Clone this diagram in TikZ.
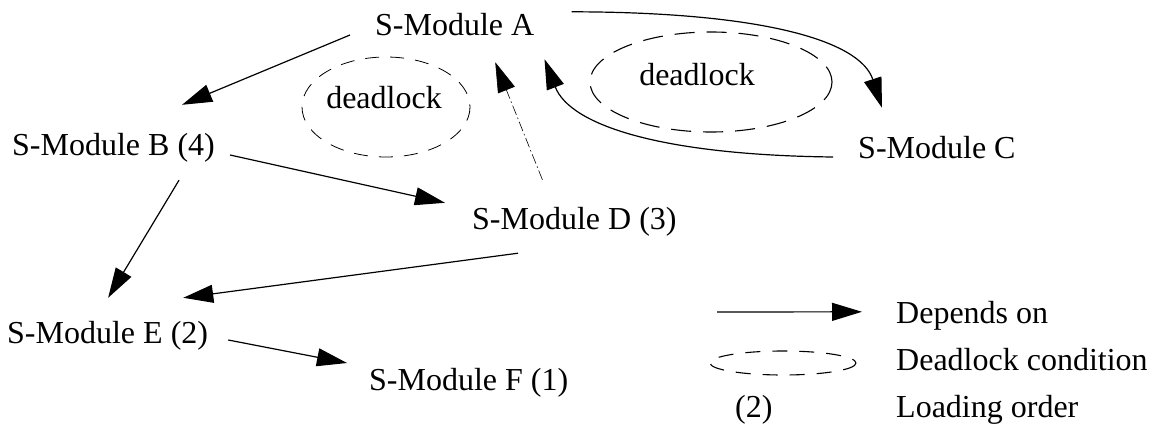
\documentclass[tikz,border=0pt]{standalone}
\usepackage{fontspec}
\setmainfont{Liberation Serif}
\usetikzlibrary{arrows.meta}
\begin{document}
\begin{tikzpicture}[x=1pt,y=-1pt,
  font=\fontsize{32}{38}\selectfont,
  mod/.style={inner sep=0pt, anchor=base west, text height=22pt, text depth=7pt},
  lbl/.style={inner sep=0pt, anchor=base west},
  dep/.style={line width=1.2pt, -{Triangle[length=30pt,width=18pt]}},
  weak/.style={line width=0.6pt, dash pattern=on 10pt off 3pt on 1.5pt off 3pt, -{Triangle[length=30pt,width=18pt,line width=0.6pt]}},
  dlbig/.style={line width=1.1pt, dash pattern=on 20pt off 12pt},
  dlsmall/.style={line width=0.8pt, dash pattern=on 14pt off 11pt},
  dllegend/.style={line width=1.1pt, dash pattern=on 15pt off 12pt}]
\useasboundingbox (0,0) rectangle (1170,431);

% modules
\node[mod] (A) at (375,35)  {S-Module A};
\node[mod] (B) at (12,155)  {S-Module B (4)};
\node[mod] (C) at (858,158) {S-Module C};
\node[mod] (D) at (472,229) {S-Module D (3)};
\node[mod] (E) at (7,343)   {S-Module E (2)};
\node[mod] (F) at (369,390) {S-Module F (1)};

% deadlock regions
\draw[dlsmall] (386,107) ellipse [x radius=84, y radius=50];
\node[inner sep=0pt, anchor=base] (dl1) at (384,108) {deadlock};
\draw[dlbig] (711,82) ellipse [x radius=121, y radius=50];
\node[inner sep=0pt, anchor=base] (dl2) at (697,85) {deadlock};

% dependencies
\draw[dep] ([shift={(-25,7.5)}]A.west) -- ([shift={(-33,-28)}]B.north east);
\draw[dep] ([shift={(15,7.5)}]B.east) -- ([shift={(-27,-4)}]D.north west);
\draw[dep] ([shift={(65.5,18)}]B.south) -- ([shift={(0.5,-23)}]E.north);
\draw[dep] ([shift={(46,17)}]D.south west) -- ([shift={(-25,-23)}]E.north east);
\draw[dep] ([shift={(20,4.5)}]E.east) -- ([shift={(-22,-19.5)}]F.west);
\draw[weak] ([shift={(-32,-27)}]D.north) -- ([shift={(40.5,20)}]A.south);
\draw[dep] ([shift={(37,-1)}]A.north east) .. controls (760,12) and (860,40) .. ([shift={(24,-28)}]C.north west);
\draw[dep] ([shift={(-25,6.5)}]C.west) .. controls (660,155) and (570,125) .. ([shift={(10,17)}]A.south east);

% legend
\node[lbl] (L1) at (896,323) {Depends on};
\node[lbl] (L2) at (896,370) {Deadlock condition};
\node[lbl] (L3) at (896,417) {Loading order};
\node[lbl] (L3n) at (735,417) {(2)};
\coordinate (L1s) at (717,312);
\draw[dep] (L1s) -- ([shift={(-34,-3.5)}]L1.west);
\draw[dllegend] (783,363) ellipse [x radius=73, y radius=12];
\end{tikzpicture}
\end{document}
